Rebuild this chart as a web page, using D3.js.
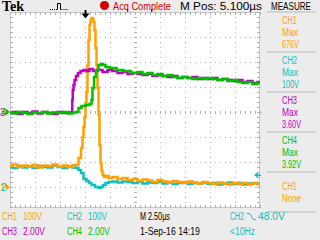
<!DOCTYPE html>
<html>
<head>
<meta charset="utf-8">
<script src="https://cdn.jsdelivr.net/npm/d3@7"></script>
<style>
  body { margin: 0; background: #ececec; }
  svg { display: block; }
  text { font-family: "Liberation Sans", "DejaVu Sans", sans-serif; font-size: 11px; }
</style>
</head>
<body>
<script>
"use strict";

// channel setup
var chanNames = ["CH1", "CH2", "CH3", "CH4"];
var chanColors = ["#ffa000", "#10bfc0", "#c000c0", "#00c000"];
var voltsPerDiv = [100, 100, 2, 2];
var voltsLabels = ["100V", "100V", "2.00V", "2.00V"];
var groundDiv = [-3, -3, 0, 0];

// time in microseconds, trigger at 0
var ch1Time = [-7.5,-7,-6.5,-6,-5.5,-5,-4.5,-4,-3.5,-3,-2.5,-2,-1.5,-1,
  -0.8,-0.5,-0.3,-0.2,-0.1,0,0.1,0.2,0.3,0.4,0.5,0.6,0.7,0.8,0.9,1,1.1,1.2,1.3,1.4,1.5,1.6,1.7,1.8,
  2,2.3,2.5,3,3.5,4,4.5,5,5.5,6,6.5,7,7.5,8,8.5,9,9.5,10,10.5,11,11.5,12,12.5,13,13.5,14,14.5,15,15.5,16,16.5,17,17.5];
var ch1Volts = [84,90,80,86,82,88,78,86,84,90,82,86,80,88,
  88,116,156,200,240,280,336,380,488,588,648,668,676,672,660,628,556,488,396,288,168,96,64,48,
  40,44,36,40,32,36,28,32,24,30,26,20,28,22,18,24,20,16,22,18,14,20,16,12,18,14,10,16,12,16,10,14,12];

var ch2Time = [-7.5,-7,-6.5,-6,-5.5,-5,-4.5,-4,-3.5,-3,-2.5,-2,-1.5,-1,
  -0.8,-0.5,-0.3,0,0.3,0.5,0.8,1.2,1.5,1.7,1.9,2.2,2.5,3,3.5,4,4.5,5,5.5,6,6.5,7,7.5,8,8.5,9,9.5,
  10,10.5,11,11.5,12,12.5,13,13.5,14,14.5,15,15.5,16,16.5,17,17.5];
var ch2Volts = [80,76,84,78,82,76,84,80,78,86,80,76,82,78,
  76,68,56,32,24,16,8,0,-4,0,8,16,20,22,18,22,20,16,20,14,18,16,20,14,18,12,16,
  18,12,16,14,18,12,16,10,14,18,12,16,10,14,16,12];

var ch3Time = [-7.5,-7,-6.5,-6,-5.5,-5,-4.5,-4,-3.5,-3,-2.5,-2,-1.5,
  -1.3,-1.25,-1.2,-1.1,-1,-0.8,-0.6,-0.3,0,0.3,0.6,1,1.5,2,2.5,3,3.5,4,4.5,5,5.5,6,6.5,7,7.5,8,8.5,9,9.5,
  10,10.5,11,11.5,12,12.5,13,13.5,14,14.5,15,15.5,16,16.5,17,17.5];
var ch3Volts = [-0.08,0,-0.16,0,-0.08,0.04,-0.12,0,-0.08,-0.16,0,-0.08,-0.04,
  0,0.96,1.76,2.16,2.56,2.88,3.12,3.28,3.36,3.28,3.44,3.28,3.36,3.2,3.36,3.28,3.12,3.2,3.04,3.12,3.04,2.96,3.04,2.88,2.96,2.88,2.8,2.88,2.72,
  2.8,2.72,2.8,2.64,2.72,2.64,2.72,2.56,2.64,2.56,2.48,2.56,2.4,2.48,2.32,2.4];

var ch4Time = [-7.5,-7,-6.5,-6,-5.5,-5,-4.5,-4,-3.5,-3,-2.5,-2,-1.5,-1,
  -0.8,-0.5,-0.2,0.3,0.6,0.7,0.8,1,1.2,1.5,1.7,1.9,2.2,2.8,3.5,4.2,5,5.5,6,6.5,7,7.5,8,8.5,9,9.5,
  10,10.5,11,11.5,12,12.5,13,13.5,14,14.5,15,15.5,16,16.5,17,17.5];
var ch4Volts = [-0.04,-0.12,0,-0.08,-0.16,-0.04,-0.08,0,-0.12,-0.04,-0.08,0,-0.12,-0.04,
  0,0.32,0.48,0.56,0.64,0.96,1.92,2.8,3.36,3.76,3.84,3.76,3.6,3.52,3.36,3.28,3.12,3.2,3.04,3.12,2.96,3.04,2.88,2.96,2.8,2.72,
  2.8,2.72,2.64,2.72,2.64,2.72,2.64,2.56,2.64,2.48,2.56,2.4,2.32,2.4,2.24,2.32];

// measure panel
var measureChans = ["CH1", "CH2", "CH3", "CH4", "CH1"];
var measureColors = ["#ffa000", "#10bfc0", "#c000c0", "#00c000", "#ffa000"];
var measureTypes = ["Max", "Max", "Max", "Max", "None"];
var measureValues = ["676V", "100V", "3.60V", "3.92V", ""];

var W = 320, H = 240;
var gLeft = 10, gRight = 260, gTop = 12, gBottom = 212, gShown = 208;

var svg = d3.select("body").append("svg").attr("width", W).attr("height", H);
svg.append("rect").attr("width", W).attr("height", H).attr("fill", "#ececec");

var x = d3.scaleLinear().domain([-7.5, 17.5]).range([gLeft, gRight]);
var yDiv = d3.scaleLinear().domain([-4, 4]).range([gBottom, gTop]);

// Tek screen font is narrow, so squeeze each text horizontally to its measured width
function label(g, px, py, str, col, w) {
  var t = g.append("text").attr("fill", col).text(str);
  var nat = t.node().getComputedTextLength() || w;
  t.attr("transform", "translate(" + px + "," + py + ") scale(" + (w / nat) + ",1)");
  return t;
}

// graticule
var grat = svg.append("g");
grat.append("rect").attr("x", gLeft).attr("y", gTop)
  .attr("width", gRight - gLeft).attr("height", gShown - gTop).attr("fill", "#fff");

var gridCol = "#b0b0b0";
var minorX = d3.range(gLeft, gRight + 1, 5);
var minorY = d3.range(gTop, gShown, 5);
var divX = d3.range(0, 11).map(function(i) { return gLeft + i * 25; });
var divY = d3.range(-4, 5).map(function(d) { return yDiv(d); });

// dotted division lines
divX.slice(1, -1).forEach(function(px) {
  grat.selectAll(null).data(minorY).enter().append("rect")
    .attr("x", px).attr("y", function(d) { return d; })
    .attr("width", 1).attr("height", 1).attr("fill", gridCol);
});
divY.slice(1, -1).forEach(function(py) {
  grat.selectAll(null).data(minorX).enter().append("rect")
    .attr("x", function(d) { return d; }).attr("y", py)
    .attr("width", 1).attr("height", 1).attr("fill", gridCol);
});
// center line ticks
grat.selectAll(null).data(minorY).enter().append("rect")
  .attr("x", x(5) - 1).attr("y", function(d) { return d; })
  .attr("width", 3).attr("height", 1).attr("fill", gridCol);
grat.selectAll(null).data(minorX).enter().append("rect")
  .attr("x", function(d) { return d; }).attr("y", yDiv(0) - 1)
  .attr("width", 1).attr("height", 3).attr("fill", gridCol);
// border with edge ticks
grat.append("rect").attr("x", gLeft + 0.5).attr("y", gTop + 0.5)
  .attr("width", gRight - gLeft - 1).attr("height", gShown - gTop - 1)
  .attr("fill", "none").attr("stroke", "#c8c8c8");
grat.selectAll(null).data(minorX).enter().append("rect")
  .attr("x", function(d) { return d; }).attr("y", gTop).attr("width", 1).attr("height", 3).attr("fill", gridCol);
grat.selectAll(null).data(minorX).enter().append("rect")
  .attr("x", function(d) { return d; }).attr("y", gShown - 3).attr("width", 1).attr("height", 3).attr("fill", gridCol);
grat.selectAll(null).data(minorY).enter().append("rect")
  .attr("x", gLeft).attr("y", function(d) { return d; }).attr("width", 3).attr("height", 1).attr("fill", gridCol);
grat.selectAll(null).data(minorY).enter().append("rect")
  .attr("x", gRight - 3).attr("y", function(d) { return d; }).attr("width", 3).attr("height", 1).attr("fill", gridCol);

// traces
svg.append("clipPath").attr("id", "scr").append("rect")
  .attr("x", gLeft).attr("y", 0).attr("width", gRight - gLeft).attr("height", gShown);
var traceG = svg.append("g").attr("clip-path", "url(#scr)");
var traces = [
  { ch: 1, t: ch2Time, v: ch2Volts },
  { ch: 0, t: ch1Time, v: ch1Volts },
  { ch: 2, t: ch3Time, v: ch3Volts },
  { ch: 3, t: ch4Time, v: ch4Volts }
];
traces.forEach(function(tr) {
  var pts = tr.t.map(function(t, i) { return [t, tr.v[i]]; });
  var line = d3.line()
    .x(function(d) { return x(d[0]); })
    .y(function(d) { return yDiv(groundDiv[tr.ch] + d[1] / voltsPerDiv[tr.ch]); })
    .curve(d3.curveStep);
  traceG.append("path").datum(pts).attr("d", line)
    .attr("fill", "none").attr("stroke", chanColors[tr.ch])
    .attr("stroke-width", 2.5).attr("stroke-linejoin", "miter");
});

// ground markers on the left
[2, 3, 0, 1].forEach(function(ch) {
  var gy = yDiv(groundDiv[ch]);
  svg.append("text").attr("x", ch === 2 || ch === 0 ? 0 : 1).attr("y", gy + 4)
    .attr("fill", chanColors[ch]).style("font-size", "10px").text(String(ch + 1));
  svg.append("path").attr("d", "M6," + (gy - 3) + "L9.5," + gy + "L6," + (gy + 3) + "Z")
    .attr("fill", chanColors[ch === 1 ? 0 : ch]);
});

// trigger level arrow (CH2 48.0V)
var trigY = yDiv(groundDiv[1] + 48 / voltsPerDiv[1]);
svg.append("path").attr("d", "M254," + trigY + "L258," + (trigY - 3) + "L258," + (trigY + 3) + "Z")
  .attr("fill", chanColors[1]);
svg.append("rect").attr("x", 257).attr("y", trigY - 0.5).attr("width", 4).attr("height", 1.5).attr("fill", chanColors[1]);

// trigger position marker
var tx = x(0);
svg.append("rect").attr("x", tx - 0.5).attr("y", 10).attr("width", 2).attr("height", 4).attr("fill", "#000");
svg.append("path").attr("d", "M" + (tx - 3.5) + ",13.5L" + (tx + 4.5) + ",13.5L" + (tx + 0.5) + ",18.5Z").attr("fill", "#000");
[127, 151].forEach(function(px) {
  svg.append("rect").attr("x", px).attr("y", 9).attr("width", 1).attr("height", 3).attr("fill", "#d00000");
});

// header
svg.append("text").attr("x", 2).attr("y", 11)
  .style("font-family", "'Liberation Serif', 'DejaVu Serif', serif")
  .style("font-weight", "bold").style("font-size", "14px").attr("fill", "#000").text("Tek");
svg.append("path")
  .attr("d", "M50,9.5H57.5M60.5,9.5H68")
  .attr("fill", "none").attr("stroke", "#000").attr("stroke-width", 1).attr("stroke-dasharray", "1,1");
svg.append("path").attr("d", "M57.5,9.5V3.5H60.5V9.5").attr("fill", "none").attr("stroke", "#000");
svg.append("circle").attr("cx", 104.5).attr("cy", 5.5).attr("r", 4.5).attr("fill", "#d00000");
var head = svg.append("g").style("font-size", "10.5px");
label(head, 113, 10, "Acq Complete", "#d00000", 58);
label(head, 180, 10, "M Pos: 5.100\u00b5s", "#000", 82);
label(head, 271, 10, "MEASURE", "#000", 40);

// measure panel
var panel = svg.append("g");
d3.range(0, 6).forEach(function(i) {
  panel.append("rect").attr("x", 267).attr("y", 11.5 + i * 40).attr("width", 49).attr("height", 1).attr("fill", "#b8b8b8");
});
measureChans.forEach(function(c, i) {
  var top = 12 + i * 40;
  var col = measureColors[i];
  if (measureTypes[i] === "None") {
    label(panel, 282, top + 18, c, col, 15);
    label(panel, 282, top + 30, measureTypes[i], col, 19);
  } else {
    label(panel, 282, top + 12, c, col, 15);
    label(panel, 282, top + 24, measureTypes[i], col, 16);
    label(panel, 282, top + 36, measureValues[i], col, measureValues[i].length > 4 ? 19 : 17);
  }
});

// bottom readout
var foot = svg.append("g");
chanNames.forEach(function(n, i) {
  var fx = (i % 2) * 65 + 2, fy = i < 2 ? 220 : 235;
  label(foot, fx, fy, n, chanColors[i], 15);
  label(foot, fx + 21, fy, voltsLabels[i], chanColors[i], voltsLabels[i].length > 4 ? 22 : 19);
});
label(foot, 140, 220, "M 2.50\u00b5s", "#000", 30);
label(foot, 140, 235, "1-Sep-16 14:19", "#000", 60);
label(foot, 230, 220, "CH2", chanColors[1], 14);
foot.append("path").attr("d", "M247,213.5H249.5L253.5,219.5H256").attr("fill", "none").attr("stroke", chanColors[1]);
label(foot, 258, 220, "48.0V", chanColors[1], 27);
label(foot, 230, 235, "<10Hz", chanColors[1], 25);
</script>
</body>
</html>
